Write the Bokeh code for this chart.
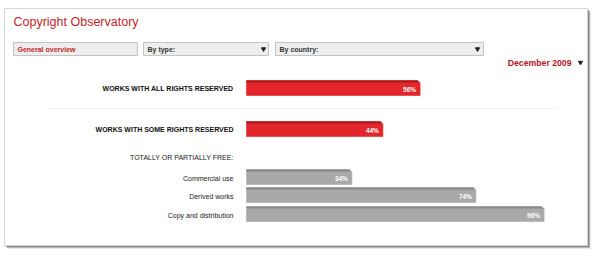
from bokeh.plotting import figure
from bokeh.models import Range1d, ColumnDataSource
from bokeh.core.properties import value
from bokeh.embed import file_html
from bokeh.resources import INLINE

# ---- data ----
title = "Copyright Observatory"
period = "December 2009"
filters = ["General overview", "By type:", "By country:"]
main_labels = ["WORKS WITH ALL RIGHTS RESERVED", "WORKS WITH SOME RIGHTS RESERVED"]
main_values = [56, 44]
free_header = "TOTALLY OR PARTIALLY FREE:"
free_labels = ["Commercial use", "Derived works", "Copy and distribution"]
free_values = [34, 74, 96]

# ---- layout ----
W, H = 600, 262
X0 = 246          # pixel where 0 % sits
PX = 3.1          # pixels per percent
FONT = value("Liberation Sans")


def dx(px):
    return (px - X0) / PX


p = figure(width=W, height=H, x_range=Range1d(dx(0), dx(W)), y_range=Range1d(H, 0),
           min_border=0, toolbar_location=None, output_backend="svg",
           x_axis_location=None, y_axis_location=None)
p.grid.visible = False
p.outline_line_color = None
p.background_fill_color = "white"
p.border_fill_color = "white"

# panel shadow + panel
for off, a in [(3, 0.25), (2, 0.45), (1, 0.7)]:
    p.quad(left=dx(4 + off), right=dx(587 + off), top=8 + off, bottom=245 + off,
           fill_color="#555555", fill_alpha=a, line_color=None)
p.quad(left=dx(4), right=dx(587), top=8, bottom=245,
       fill_color="white", line_color="#d6d6d6", line_width=1)

# title
p.text(x=[dx(13)], y=[21], text=[title], text_font=FONT, text_font_size="12.5px",
       text_color="#c41e2a", text_baseline="middle", text_align="left")

# dropdown boxes
boxes = [(13, 137), (143, 268), (275, 483)]
p.quad(left=[dx(a) for a, b in boxes], right=[dx(b) for a, b in boxes],
       top=[42] * 3, bottom=[55] * 3, fill_color="#eeeeee", line_color="#c4c4c4")
p.text(x=[dx(a + 4) for a, b in boxes], y=[48.8] * 3, text=filters, text_font=FONT,
       text_font_size="7px", text_font_style="bold",
       text_color=["#c41e2a", "#333333", "#333333"], text_baseline="middle")
p.scatter(x=[dx(263), dx(477), dx(580)], y=[48.5, 48.5, 62], marker="inverted_triangle",
          size=4.2, color="#222222")

# period
p.text(x=[dx(571)], y=[62.5], text=[period], text_font=FONT, text_font_size="8.7px",
       text_font_style="bold", text_color="#b3141e", text_baseline="middle", text_align="right")

# separator
p.segment(x0=[dx(47)], x1=[dx(557)], y0=[108], y1=[108], line_color="#f1f1f1", line_width=1)

BH = 15
C = 2.5 / PX


def bars(vals, ys, fill, stripe, edge):
    xs, yss, sx, sy = [], [], [], []
    for v, y in zip(vals, ys):
        t, b = y - BH / 2, y + BH / 2
        xs.append([0, v - C, v, v, 0])
        yss.append([t, t, t + 2.5, b, b])
        sx.append([0, v - C, v - C + 2 / PX, 0])
        sy.append([t, t, t + 2, t + 2])
    p.patches(xs=xs, ys=yss, fill_color=fill, line_color=edge, line_width=0.6)
    p.patches(xs=sx, ys=sy, fill_color=stripe, line_color=None)
    p.text(x=[v - 4 / PX for v in vals], y=[y + 1 for y in ys], text=[f"{v}%" for v in vals],
           text_font=FONT, text_font_size="6.5px", text_font_style="bold", text_color="white",
           text_align="right", text_baseline="middle")


main_y = [87.5, 128.5]
free_y = [176.5, 194.5, 213.5]
bars(main_values, main_y, "#e3262b", "#a81a1e", "#e3262b")
bars(free_values, free_y, "#a9a9a9", "#8a8a8a", "#a9a9a9")

# row labels
p.text(x=[dx(233)] * 2, y=main_y, text=main_labels, text_font=FONT, text_font_size="7px",
       text_font_style="bold", text_color="#111111", text_align="right", text_baseline="middle")
p.text(x=[dx(233)], y=[157], text=[free_header], text_font=FONT, text_font_size="7px",
       text_color="#222222", text_align="right", text_baseline="middle")
p.text(x=[dx(233)] * 3, y=[y + 1 for y in free_y], text=free_labels, text_font=FONT,
       text_font_size="7px", text_color="#222222", text_align="right", text_baseline="middle")

open("out.html", "w").write(file_html(p, INLINE))
